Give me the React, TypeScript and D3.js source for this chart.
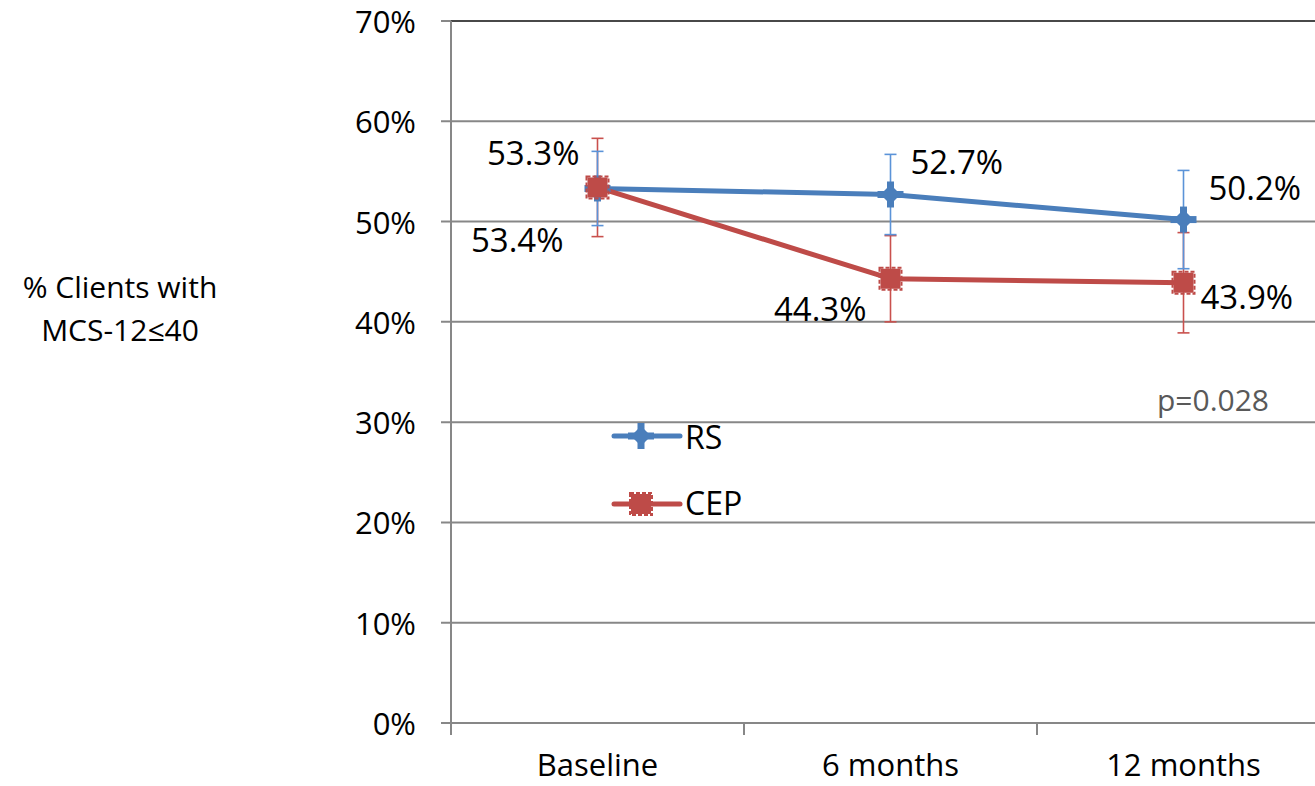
import React from "react";
import * as d3 from "d3";

// Time points and series values (proportions, %)
const categories = ["Baseline", "6 months", "12 months"];
const rsValues = [53.3, 52.7, 50.2];
const cepValues = [53.4, 44.3, 43.9];
// Half-widths of the error bars (percentage points)
const rsErrors = [3.7, 4.0, 4.9];
const cepErrors = [4.9, 4.3, 5.0];
const yTicks = [0, 10, 20, 30, 40, 50, 60, 70];
const seriesNames = ["RS", "CEP"];
const pValueText = "p=0.028";

const W = 1315;
const H = 786;
const FONT = "'Open Sans', 'Noto Sans', sans-serif";
const BLUE = "#4A7EBB";
const BLUE_ERR = "#5B93D8";
const RED = "#BE4B48";
const RED_ERR = "#C9504D";

export default function App() {
  const x = d3.scaleBand<string>().domain(categories).range([451, 1330]);
  const y = d3.scaleLinear().domain([0, 70]).range([723, 21]);
  const cx = (c: string) => (x(c) as number) + x.bandwidth() / 2;
  const line = d3
    .line<number>()
    .x((_, i) => cx(categories[i]))
    .y((d) => y(d));
  const xBoundaries = [...categories.map((c) => x(c) as number), 1330];

  // label offsets relative to each point: [dx, dy, anchor]
  const rsLabelPos: [number, number, string][] = [
    [-18, -35, "end"],
    [20, -32, "start"],
    [25, -31, "start"],
  ];
  const cepLabelPos: [number, number, string][] = [
    [-34, 53, "end"],
    [-24, 31, "end"],
    [17, 15, "start"],
  ];

  const diamond = (px: number, py: number, key: string, color: string) => (
    <g key={key}>
      <path
        d={`M${px},${py - 10}L${px + 10},${py}L${px},${py + 10}L${px - 10},${py}Z`}
        fill={color}
      />
      <rect x={px - 3.5} y={py - 13} width={7} height={26} fill={color} />
      <rect x={px - 13} y={py - 3.5} width={26} height={7} fill={color} />
    </g>
  );
  const square = (px: number, py: number, key: string, color: string) => (
    <g key={key}>
      <rect x={px - 10} y={py - 10} width={20} height={20} fill={color} />
      <rect
        x={px - 11}
        y={py - 11}
        width={22}
        height={22}
        fill="none"
        stroke={color}
        strokeWidth={2}
        strokeDasharray="4 2"
      />
    </g>
  );

  const errBar = (
    c: string,
    v: number,
    e: number,
    color: string,
    key: string
  ) => {
    const px = cx(c);
    return (
      <g key={key} stroke={color} strokeWidth={1.6}>
        <line x1={px} x2={px} y1={y(v + e)} y2={y(v - e)} />
        <line x1={px - 6} x2={px + 6} y1={y(v + e)} y2={y(v + e)} />
        <line x1={px - 6} x2={px + 6} y1={y(v - e)} y2={y(v - e)} />
      </g>
    );
  };

  return (
    <svg
      width={W}
      height={H}
      style={{ position: "absolute", left: 0, top: 0, background: "#fff" }}
      fontFamily={FONT}
    >
      {/* gridlines and y ticks */}
      {yTicks.map((t) => (
        <g key={`g${t}`}>
          <line
            x1={441}
            x2={W}
            y1={y(t)}
            y2={y(t)}
            stroke="#878787"
            strokeWidth={2}
          />
          <text
            x={416}
            y={y(t) + 12}
            textAnchor="end"
            fontSize={31}
            fill="#000"
          >
            {t}%
          </text>
        </g>
      ))}
      <line x1={451} x2={W} y1={y(70)} y2={y(70)} stroke="#333" strokeWidth={1.5} />
      {/* axes */}
      <line x1={451} x2={451} y1={y(70)} y2={735} stroke="#878787" strokeWidth={2} />
      {xBoundaries.map((bx, i) => (
        <line
          key={`xt${i}`}
          x1={bx}
          x2={bx}
          y1={723}
          y2={735}
          stroke="#878787"
          strokeWidth={2}
        />
      ))}
      {categories.map((c) => (
        <text
          key={c}
          x={cx(c)}
          y={776}
          textAnchor="middle"
          fontSize={31}
          fill="#000"
        >
          {c}
        </text>
      ))}
      {/* y axis title */}
      <text textAnchor="middle" fontSize={30} fill="#000">
        <tspan x={120} y={298}>% Clients with</tspan>
        <tspan x={120} y={341}>MCS-12≤40</tspan>
      </text>

      {/* error bars */}
      {categories.map((c, i) => errBar(c, cepValues[i], cepErrors[i], RED_ERR, `ce${i}`))}
      {categories.map((c, i) => errBar(c, rsValues[i], rsErrors[i], BLUE_ERR, `re${i}`))}

      {/* series lines */}
      <path d={line(rsValues) as string} fill="none" stroke={BLUE} strokeWidth={5} strokeLinejoin="round" />
      <path d={line(cepValues) as string} fill="none" stroke={RED} strokeWidth={5} strokeLinejoin="round" />
      {categories.map((c, i) => diamond(cx(c), y(rsValues[i]), `rm${i}`, BLUE))}
      {categories.map((c, i) => square(cx(c), y(cepValues[i]), `cm${i}`, RED))}

      {/* data labels */}
      {categories.map((c, i) => (
        <text
          key={`rl${i}`}
          x={cx(c) + rsLabelPos[i][0]}
          y={y(rsValues[i]) + rsLabelPos[i][1]}
          dy="0.35em"
          textAnchor={rsLabelPos[i][2]}
          fontSize={33}
          fill="#000"
        >
          {rsValues[i].toFixed(1)}%
        </text>
      ))}
      {categories.map((c, i) => (
        <text
          key={`cl${i}`}
          x={cx(c) + cepLabelPos[i][0]}
          y={y(cepValues[i]) + cepLabelPos[i][1]}
          dy="0.35em"
          textAnchor={cepLabelPos[i][2]}
          fontSize={33}
          fill="#000"
        >
          {cepValues[i].toFixed(1)}%
        </text>
      ))}

      {/* p-value */}
      <text x={1213} y={400} dy="0.35em" textAnchor="middle" fontSize={30} fill="#595959">
        {pValueText}
      </text>

      {/* legend */}
      <g>
        <line x1={614} x2={680} y1={436} y2={436} stroke={BLUE} strokeWidth={5} strokeLinecap="round" />
        {diamond(641, 436, "lg0", BLUE)}
        <text x={685} y={438} dy="0.35em" fontSize={32} fill="#000">
          {seriesNames[0]}
        </text>
        <line x1={614} x2={680} y1={504} y2={504} stroke={RED} strokeWidth={5} strokeLinecap="round" />
        {square(641, 504, "lg1", RED)}
        <text x={685} y={504} dy="0.35em" fontSize={32} fill="#000">
          {seriesNames[1]}
        </text>
      </g>
    </svg>
  );
}
